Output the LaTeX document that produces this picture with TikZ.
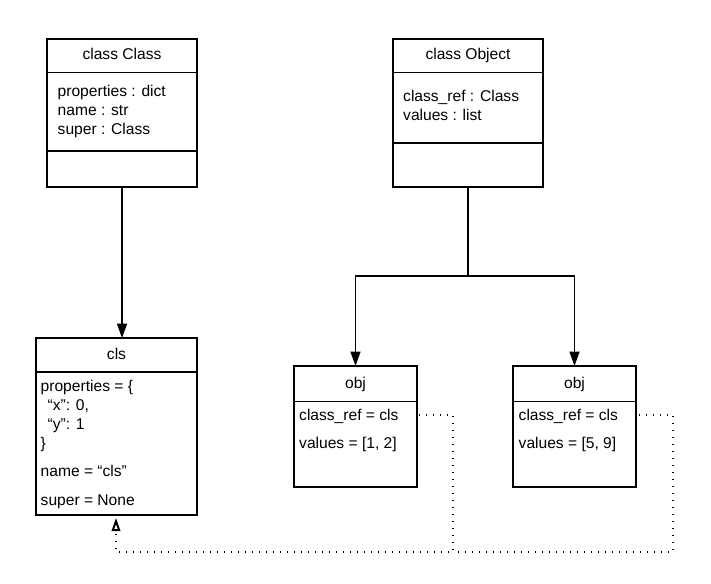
\documentclass[tikz,border=0pt]{standalone}
\usepackage{fontspec}
\setmainfont{Liberation Sans}
\usetikzlibrary{arrows.meta}
\begin{document}
\begin{tikzpicture}[x=1pt,y=-1pt,
  box/.style={draw, line width=1.6pt, inner sep=0pt, outer sep=0pt, anchor=north west},
  divider/.style={line width=1.6pt},
  txt/.style={inner sep=0pt, font=\fontsize{15.6pt}{19pt}\selectfont},
  arr/.style={line width=1.6pt, -{Triangle[length=14.5pt,width=10pt]}},
  link/.style={line width=1.3pt, dash pattern=on 1.3pt off 5.7pt},
  inh/.style={link, -{Triangle[open, length=13pt, width=8.5pt, line width=2pt]}, shorten >=3pt}]
\useasboundingbox (0,0) rectangle (711,583);
\fill[white] (0,0) rectangle (711,583);

% class Class
\node[box, minimum width=150pt, minimum height=148pt] (C) at (47,39) {};
\draw[divider] (47,72.7) -- (197,72.7);
\draw[divider] (47,151) -- (197,151);
\node[txt, anchor=base] (Ch) at (122,60) {class Class};
\node[txt, anchor=base west] (C1) at (57.5,96) {properties : dict};
\node[txt, anchor=base west] (C2) at (57.5,115) {name : str};
\node[txt, anchor=base west] (C3) at (57.5,134) {super : Class};

% class Object
\node[box, minimum width=150pt, minimum height=148pt] (O) at (393,39) {};
\draw[divider] (393,72.7) -- (543,72.7);
\draw[divider] (393,142.7) -- (543,142.7);
\node[txt, anchor=base] (Oh) at (468,60) {class Object};
\node[txt, anchor=base west] (O1) at (403,101.5) {class\_ref : Class};
\node[txt, anchor=base west] (O2) at (403,120.5) {values : list};

% cls
\node[box, minimum width=161pt, minimum height=177pt] (cls) at (36,338) {};
\draw[divider] (36,372) -- (197,372);
\node[txt, anchor=base] (clsh) at (116.5,359) {cls};
\node[txt, anchor=base west] (k1) at (40.5,391.5) {properties = \{};
\node[txt, anchor=base west] (k2) at (40.5,410.5) {\hspace*{7pt}“x": 0,};
\node[txt, anchor=base west] (k3) at (40.5,429.5) {\hspace*{7pt}“y": 1};
\node[txt, anchor=base west] (k4) at (40.5,448.5) {\}};
\node[txt, anchor=base west] (k5) at (40.5,476.5) {name = “cls"};
\node[txt, anchor=base west] (k6) at (40.5,505) {super = None};

% obj 1
\node[box, minimum width=123pt, minimum height=121pt] (o1) at (294,366) {};
\draw[divider] (294,401.5) -- (417,401.5);
\node[txt, anchor=base] (o1h) at (355.5,388) {obj};
\node[txt, anchor=base west] (o1a) at (299,420) {class\_ref = cls};
\node[txt, anchor=base west] (o1b) at (299,448) {values = [1, 2]};

% obj 2
\node[box, minimum width=123pt, minimum height=121pt] (o2) at (513,366) {};
\draw[divider] (513,401.5) -- (636,401.5);
\node[txt, anchor=base] (o2h) at (574.5,388) {obj};
\node[txt, anchor=base west] (o2a) at (518.5,420) {class\_ref = cls};
\node[txt, anchor=base west] (o2b) at (518.5,448) {values = [5, 9]};

% solid arrows
\draw[arr] (C.south) -- (C.south |- cls.north);
\coordinate (fork) at (468,276);
\draw[arr] (O.south) -- (fork) -| (o1.north);
\draw[arr] (fork) -| (o2.north);

% dotted references
\coordinate (s1) at (419,415);
\coordinate (s2) at (639,415);
\coordinate (j) at (453,552);
\coordinate (tgt) at (116,515);
\draw[inh] (s1) -- (453,415) -- (j) -- (116,552) -- (tgt);
\draw[link] (s2) -- (673,415) -- (673,552) -- (j);
\end{tikzpicture}
\end{document}
